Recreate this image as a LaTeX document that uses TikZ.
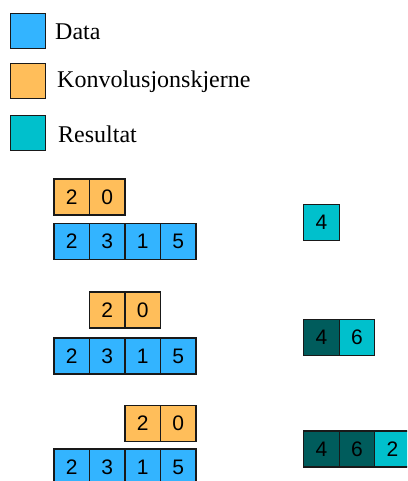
\documentclass[tikz,border=0pt]{standalone}
\usepackage{fontspec}
\setmainfont{Liberation Serif}
\newfontfamily\cellfont{Liberation Sans}
\definecolor{cdata}{RGB}{51,180,255}
\definecolor{ckern}{RGB}{255,190,90}
\definecolor{cres}{RGB}{0,192,204}
\definecolor{cdone}{RGB}{0,92,92}
\tikzset{
  cell/.style={draw=black!90, line width=1.3pt, minimum width=35.5pt, minimum height=36pt, inner sep=0pt, font=\cellfont\fontsize{21}{21}\selectfont},
  datacell/.style={cell, fill=cdata},
  kerncell/.style={cell, fill=ckern},
  rescell/.style={cell, fill=cres},
  donecell/.style={cell, fill=cdone},
  legbox/.style={draw=black!90, line width=1.3pt, minimum width=35pt, minimum height=35pt, inner sep=0pt},
  legtext/.style={anchor=west, inner sep=0pt, font=\fontsize{24}{24}\selectfont}
}
\begin{document}
\begin{tikzpicture}[x=1pt,y=-1pt]
\useasboundingbox (0,0) rectangle (407,481);
\clip (0,0) rectangle (407,481);
% legend
\node[legbox, fill=cdata] (l1) at (28,31) {};
\node[legtext] (t1) at (55,32) {Data};
\node[legbox, fill=ckern] (l2) at (28,81) {};
\node[legtext] (t2) at (57,82) {Konvolusjonskjerne};
\node[legbox, fill=cres] (l3) at (28,133) {};
\node[legtext] (t3) at (58,134) {Resultat};
% row 1
\node[kerncell] (k1a) at (71.75,197) {2};
\node[kerncell] (k1b) at (107.25,197) {0};
\node[datacell] (d1a) at (71.75,241.5) {2};
\node[datacell] (d1b) at (107.25,241.5) {3};
\node[datacell] (d1c) at (142.75,241.5) {1};
\node[datacell] (d1d) at (178.25,241.5) {5};
\node[rescell] (r1a) at (321.5,222.5) {4};
% row 2
\node[kerncell] (k2a) at (107.25,310) {2};
\node[kerncell] (k2b) at (142.75,310) {0};
\node[datacell] (d2a) at (71.75,356) {2};
\node[datacell] (d2b) at (107.25,356) {3};
\node[datacell] (d2c) at (142.75,356) {1};
\node[datacell] (d2d) at (178.25,356) {5};
\node[donecell] (r2a) at (321.5,337.5) {4};
\node[rescell] (r2b) at (357,337.5) {6};
% row 3
\node[kerncell] (k3a) at (142.75,423.5) {2};
\node[kerncell] (k3b) at (178.25,423.5) {0};
\node[datacell] (d3a) at (71.75,467) {2};
\node[datacell] (d3b) at (107.25,467) {3};
\node[datacell] (d3c) at (142.75,467) {1};
\node[datacell] (d3d) at (178.25,467) {5};
\node[donecell] (r3a) at (321.5,449) {4};
\node[donecell] (r3b) at (357,449) {6};
\node[rescell] (r3c) at (392.5,449) {2};
\end{tikzpicture}
\end{document}
